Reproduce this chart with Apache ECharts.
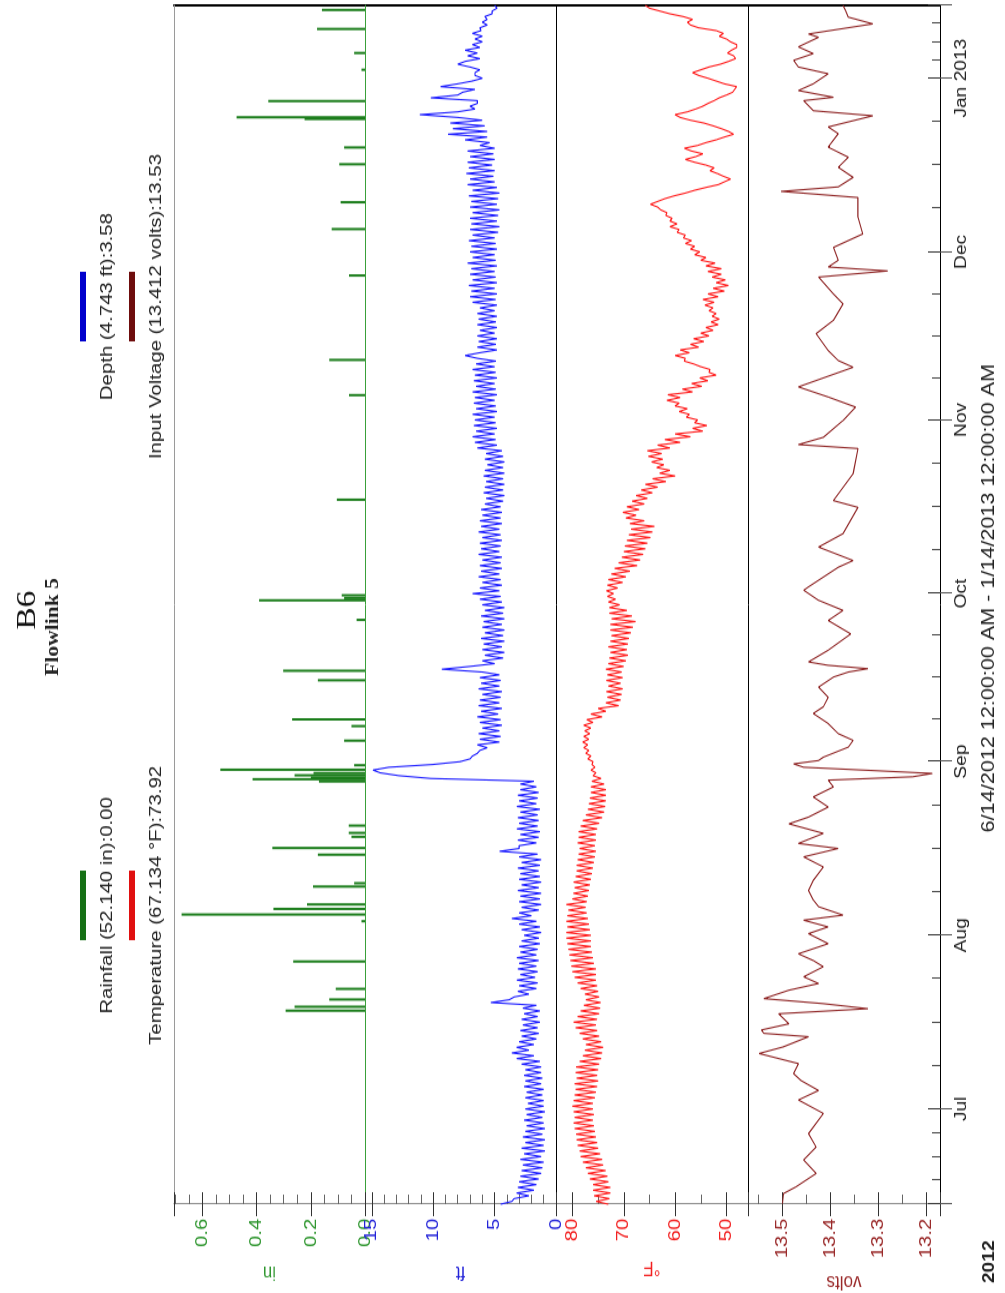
<!DOCTYPE html>
<html>
<head>
<meta charset="utf-8">
<script src="https://cdn.jsdelivr.net/npm/echarts@6/dist/echarts.min.js"></script>
<style>
  html, body { margin: 0; padding: 0; background: #fff; overflow: hidden; width: 1005px; height: 1293px; }
  /* The chart is laid out landscape, then turned a quarter turn so time runs bottom-to-top. */
  #chart { position: absolute; left: 0; top: 0; width: 1078px; height: 1005px;
           transform-origin: 0 0; transform: translate(0, 1293px) rotate(-90deg) scale(1.2, 1); }
</style>
</head>
<body>
<div id="chart"></div>
<script>
const START = new Date(2012, 5, 14).getTime();
const END = new Date(2013, 0, 14).getTime();
const DAY = 86400000;
const STEP = DAY / 2;            // depth and temperature are logged every 12 hours
const MONTHS = ['Jan','Feb','Mar','Apr','May','Jun','Jul','Aug','Sep','Oct','Nov','Dec'];

// Rainfall events: days after 6/14/2012 and inches
const rainDays = [34.4, 35.1, 36.4, 38.3, 43.2, 50.4, 51.6, 52.6, 53.4, 56.6, 57.2, 62.3, 63.5, 65.5, 66.2, 67.5,
                  75.4, 75.8, 76.1, 76.5, 76.9, 77.5, 78.3, 82.7, 85.3, 86.5, 93.5, 95.2, 104.3, 107.8, 108.2, 108.7,
                  125.8, 144.5, 150.8, 165.9, 174.2, 179.0, 185.8, 188.8, 193.9, 194.2, 197.1, 202.7, 205.7, 210.0, 213.4];
const rainInches = [0.293, 0.26, 0.132, 0.108, 0.265, 0.013, 0.677, 0.338, 0.214, 0.192, 0.04, 0.174, 0.342, 0.05, 0.06, 0.06,
                    0.17, 0.415, 0.2, 0.26, 0.19, 0.534, 0.04, 0.077, 0.05, 0.269, 0.174, 0.302, 0.031, 0.391, 0.077, 0.086,
                    0.104, 0.059, 0.132, 0.059, 0.123, 0.09, 0.095, 0.077, 0.223, 0.474, 0.357, 0.013, 0.04, 0.177, 0.159];

// Depth (ft), every 12 hours from 6/14/2012 00:00
const depthFt = [
  4.5,3.6, 3.4,2.2, 3.2,1.8, 3.1,1.6, 3.0,1.4, 2.9,1.2, 2.8,1.1, 2.7,1.0, 2.9,1.2, 2.6,0.9,
  2.8,1.0, 2.5,0.9, 2.7,1.1, 2.5,0.9, 2.4,1.0, 2.6,1.1, 2.4,0.9, 2.5,1.0, 2.3,1.0, 2.5,1.1,
  2.4,1.0, 2.6,1.2, 2.5,1.1, 2.6,1.2, 2.5,1.2, 2.8,1.3, 3.2,1.8, 3.6,2.2, 3.2,1.8, 3.0,1.6,
  2.8,1.4, 2.9,1.5, 2.7,1.3, 2.8,1.5, 2.6,1.3, 2.7,1.6, 5.3,3.8, 3.4,2.2, 3.1,1.6, 3.0,1.5,
  3.2,1.7, 2.9,1.5, 3.1,1.6, 3.0,1.4, 3.2,1.6, 2.9,1.5, 3.0,1.3, 2.8,1.4, 2.6,1.2, 2.8,1.3,
  3.0,1.6, 3.6,2.0, 3.0,1.4, 2.8,1.2, 3.0,1.3, 2.9,1.2, 3.1,1.4, 2.8,1.2, 3.0,1.3, 2.9,1.4,
  3.1,1.3, 2.8,1.2, 3.0,1.5, 4.6,3.0, 3.0,1.6, 3.1,1.4, 2.9,1.3, 3.2,1.5, 3.0,1.4, 3.1,1.5,
  2.9,1.3, 3.2,1.6, 3.0,1.5, 3.1,1.4, 2.9,1.6, 2.9,1.8, 10.2,12.8, 14.3,14.9, 13.6,10.0, 7.8,7.0,
  6.8,6.4, 6.2,5.6, 6.4,4.6, 6.2,4.5, 6.3,4.6, 6.0,4.4, 6.2,4.5, 6.4,4.7, 6.1,4.4, 6.3,4.6,
  6.2,4.5, 6.0,4.4, 6.3,4.6, 6.1,4.5, 6.2,4.6, 6.0,9.3, 7.0,5.0, 6.0,4.3, 5.8,4.2, 6.0,4.4,
  5.9,4.2, 6.1,4.3, 5.8,4.2, 6.0,4.4, 5.9,4.2, 6.1,4.3, 5.8,4.2, 6.0,4.4, 6.2,4.5, 6.8,4.6,
  6.2,4.4, 6.0,4.5, 6.3,4.6, 6.1,4.4, 6.2,4.5, 6.0,4.4, 6.3,4.6, 6.1,4.5, 6.2,4.4, 6.0,4.5,
  6.3,4.6, 6.1,4.4, 6.2,4.5, 6.0,4.4, 6.1,4.5, 5.8,4.3, 5.7,4.2, 5.9,4.3, 5.8,4.2, 5.7,4.3,
  5.9,4.2, 5.8,4.3, 5.6,4.2, 5.8,4.3, 5.7,4.4, 6.4,4.8, 6.6,4.9, 6.8,5.0, 6.5,4.8, 6.7,4.9,
  6.6,5.0, 6.8,4.8, 6.5,4.9, 6.7,5.0, 6.6,4.8, 6.8,4.9, 6.5,5.0, 6.7,4.8, 6.6,4.9, 6.8,5.0,
  6.5,4.9, 6.4,7.4, 6.2,4.8, 6.4,4.9, 6.3,4.8, 6.4,5.0, 6.2,4.8, 6.4,4.9, 6.3,4.8, 6.4,5.0,
  6.2,4.8, 6.8,4.9, 7.0,4.8, 6.9,5.0, 7.1,4.8, 6.8,4.9, 7.0,5.0, 6.9,4.8, 7.2,4.9, 6.8,5.0,
  7.0,4.8, 6.9,4.9, 7.1,5.0, 6.8,4.7, 7.0,4.6, 6.9,4.8, 7.0,4.7, 6.8,4.6, 7.0,4.8, 6.9,4.7,
  7.1,4.6, 6.8,4.8, 7.2,5.0, 7.0,5.1, 7.3,5.0, 7.1,5.2, 7.2,5.0, 7.0,5.1, 7.2,5.0, 6.2,5.4,
  7.4,5.6, 8.8,5.6, 8.4,5.8, 8.6,6.0, 8.0,11.1, 8.0,6.6, 7.0,6.4, 6.4,10.2, 8.0,7.6, 6.6,9.4,
  8.0,6.8, 6.0,6.6, 6.6,6.2, 7.0,8.0, 7.4,6.2, 7.2,6.4, 7.4,6.2, 6.8,6.0, 6.6,6.0, 6.8,6.1,
  6.2,5.6, 6.0,5.6, 5.8,5.2, 5.2,4.8, 5.0
];

// Temperature (°F), every 12 hours from 6/14/2012 00:00
const tempF = [
  73.0,75.4, 72.8,75.8, 72.6,76.0, 72.6,76.0, 73.0,76.6, 73.2,77.0, 73.5,77.4, 74.0,78.0, 74.2,78.4, 74.6,78.6,
  75.0,79.0, 75.2,79.2, 75.4,79.3, 75.6,79.6, 75.8,79.8, 76.0,79.6, 75.8,79.8, 76.0,80.0, 76.0,79.8, 75.6,79.6,
  75.4,79.4, 75.2,79.6, 75.0,79.2, 75.2,79.4, 75.0,79.3, 74.8,78.6, 74.4,78.0, 74.2,77.6, 74.0,77.4, 74.4,78.0,
  74.8,78.6, 75.2,79.4, 75.4,79.8, 75.2,79.0, 74.8,78.4, 74.6,77.8, 74.5,77.4, 74.8,77.6, 75.0,78.4, 75.2,79.0,
  75.4,79.6, 75.4,80.0, 75.4,80.2, 75.8,80.4, 76.0,80.6, 76.2,80.8, 76.4,81.0, 76.4,81.2, 76.4,81.2, 76.6,81.0,
  76.8,81.2, 77.0,81.0, 77.2,80.8, 77.4,81.2, 77.2,80.0, 77.0,79.8, 76.8,79.6, 76.6,79.8, 76.4,79.4, 76.2,79.2,
  76.0,79.2, 75.8,79.0, 75.6,78.8, 75.4,78.6, 75.6,79.0, 75.4,78.8, 75.4,78.8, 75.2,78.4, 74.8,78.0, 74.2,77.4,
  73.8,77.0, 73.6,76.8, 73.5,76.6, 73.5,76.4, 73.5,76.4, 73.8,76.2, 74.4,76.0, 75.4,76.4, 75.6,76.2, 76.0,77.0,
  76.4,77.4, 76.8,77.8, 77.0,78.0, 76.8,77.8, 76.6,77.6, 76.4,77.8, 76.0,77.2, 74.2,76.4, 73.5,75.0, 71.0,73.5,
  70.6,73.2, 70.4,73.4, 70.2,73.0, 70.6,73.4, 70.2,73.2, 70.4,73.5, 70.0,73.0, 69.6,72.8, 69.2,72.6, 69.4,73.0,
  69.2,72.6, 69.0,72.4, 68.6,72.6, 68.2,72.6, 67.7,72.4, 68.4,72.8, 69.4,72.8, 70.8,73.0, 71.6,73.2, 72.0,73.4,
  71.2,73.2, 70.2,73.0, 69.6,72.4, 68.8,71.8, 67.4,71.0, 66.8,70.4, 66.2,70.0, 65.8,69.8, 65.4,69.4, 64.8,69.0,
  64.4,68.6, 64.0,68.8, 66.0,69.6, 67.6,70.2, 67.0,69.4, 66.0,68.4, 65.4,67.6, 64.4,66.6, 63.4,65.8, 61.8,64.4,
  60.0,63.0, 61.0,63.6, 62.2,64.6, 62.4,65.2, 62.6,65.4, 61.0,63.4, 59.0,62.0, 57.0,60.0, 54.6,56.6, 53.8,56.2,
  55.6,57.8, 57.2,59.2, 57.6,60.0, 59.2,61.6, 59.0,61.4, 56.6,58.6, 54.8,56.8, 53.6,55.2, 52.0,53.4, 53.2,55.0,
  56.4,58.2, 58.0,60.0, 57.2,59.0, 55.4,57.0, 54.4,56.4, 53.4,55.0, 52.6,54.0, 51.6,53.0, 51.4,52.8, 52.0,53.4,
  52.6,54.2, 52.4,54.6, 51.6,53.6, 50.4,52.6, 49.6,52.0, 50.2,52.8, 51.0,53.6, 51.0,54.0, 52.2,55.0, 54.0,56.2,
  55.2,57.0, 56.2,58.0, 56.8,58.4, 58.0,59.6, 59.2,61.0, 59.6,61.0, 60.6,61.8, 61.6,62.8, 63.4,64.8, 63.4,62.0,
  60.2,58.0, 56.2,54.0, 51.6,50.4, 49.2,50.6, 51.8,53.2, 52.4,54.0, 56.2,58.0, 56.0,54.6, 56.8,58.2, 55.6,54.0,
  52.0,50.4, 48.6,49.6, 51.0,52.6, 54.4,57.0, 59.0,60.0, 57.6,56.0, 54.6,53.6, 52.4,51.4, 50.0,48.8, 48.4,48.0,
  50.4,52.0, 53.6,55.4, 56.6,55.0, 53.4,51.2, 49.6,48.2, 48.6,49.8, 49.0,48.0, 48.0,49.2, 50.0,51.4, 50.6,52.0,
  55.4,57.0, 57.6,56.6, 58.4,61.0, 63.0,65.0, 65.8
];

// Input voltage readings: days after 6/14/2012 and volts
const voltDays = [0.1, 1.9, 3.1, 5.5, 7.9, 10.2, 12.6, 16.2, 18.6, 20.3, 22.1, 23.3, 25.1, 26.9, 28.1, 29.9, 30.5, 31.1,
  32.2, 34.0, 34.9, 35.8, 36.7, 38.2, 39.4, 40.6, 42.4, 43.5, 44.7, 46.5, 48.3, 49.5, 50.7, 51.6, 53.1, 54.3,
  56.0, 57.8, 60.2, 62.0, 63.5, 64.4, 66.2, 67.9, 69.1, 70.9, 72.7, 74.5, 75.7, 76.3, 76.9, 77.5, 78.0, 78.6,
  79.2, 79.8, 81.6, 82.8, 84.0, 85.8, 87.6, 88.8, 90.5, 92.3, 94.1, 95.0, 95.6, 96.2, 96.8, 98.9, 101.8, 104.2,
  106.0, 107.8, 109.6, 110.2, 113.7, 114.9, 117.3, 119.7, 124.4, 125.6, 130.4, 134.9, 135.6, 136.9, 139.9, 142.3,
  144.1, 145.9, 149.4, 150.6, 152.4, 155.4, 157.8, 160.7, 162.5, 165.5, 166.6, 167.3, 168.5, 170.8, 173.2, 176.2,
  179.7, 180.8, 181.6, 183.3, 185.1, 186.9, 188.7, 191.1, 192.3, 194.3, 195.2, 197.0, 197.6, 198.8, 200.0, 201.8,
  203.0, 204.2, 205.4, 206.6, 208.3, 208.9, 210.7, 211.9, 213.1, 214.0];
const voltVals = [13.500, 13.498, 13.472, 13.430, 13.456, 13.430, 13.446, 13.415, 13.467, 13.425, 13.462, 13.477, 13.467,
  13.549, 13.498, 13.446, 13.539, 13.544, 13.487, 13.508, 13.322, 13.415, 13.539, 13.487, 13.425, 13.456, 13.415, 13.436,
  13.467, 13.405, 13.446, 13.405, 13.456, 13.374, 13.425, 13.436,
  13.446, 13.436, 13.415, 13.456, 13.384, 13.467, 13.415, 13.487, 13.446, 13.405, 13.436, 13.394, 13.405, 13.229, 13.188,
  13.333, 13.456, 13.477, 13.425, 13.415, 13.363, 13.353, 13.384, 13.405, 13.436, 13.415, 13.405, 13.425, 13.394, 13.363,
  13.322, 13.405, 13.446, 13.405, 13.358, 13.405, 13.374, 13.425, 13.456, 13.446, 13.384, 13.353, 13.425, 13.374, 13.343,
  13.394, 13.353, 13.343, 13.467, 13.415, 13.374, 13.348, 13.405, 13.467, 13.353, 13.384, 13.405, 13.430, 13.394, 13.374,
  13.394, 13.425, 13.281, 13.405, 13.384, 13.394, 13.333, 13.343, 13.343, 13.503, 13.384, 13.353, 13.384, 13.363, 13.405,
  13.384, 13.405, 13.312, 13.436, 13.456, 13.394, 13.467, 13.436, 13.405, 13.467, 13.477, 13.436, 13.467, 13.425, 13.446,
  13.312, 13.363, 13.369, 13.374];

const FONT = "'Liberation Sans', Arial, sans-serif";
const SERIF = "'Liberation Serif', 'Times New Roman', serif";
const C_RAIN = '#1b7d1b', C_DEPTH = '#1a1aff', C_TEMP = '#ff1a1a', C_VOLT = '#8e2323';
const L_RAIN = '#2f962f', L_DEPTH = '#2323d8', L_TEMP = '#f22020', L_VOLT = '#9a2a2a';

const gridTops = [174, 365, 556, 748];
const gridHeights = [191, 191, 192, 192];

function monthLabel(value) {
  const d = new Date(value);
  if (d.getDate() !== 1 || d.getHours() !== 0) return '';
  const m = d.getMonth();
  return m === 0 ? 'Jan ' + d.getFullYear() : MONTHS[m];
}

function timeAxis(gridIndex, extra) {
  return Object.assign({
    type: 'time', gridIndex: gridIndex, min: START, max: END, position: 'bottom',
    splitNumber: 7, minInterval: 28 * DAY,
    axisLine: { show: true, onZero: false, lineStyle: { color: '#000', width: 1 } },
    axisTick: { show: false }, minorTick: { show: false },
    axisLabel: { show: false }, splitLine: { show: false }, minorSplitLine: { show: false }
  }, extra || {});
}

function valueAxis(i, cfg) {
  return {
    type: 'value', gridIndex: i, position: 'left',
    min: cfg.min, max: cfg.max, interval: cfg.interval, splitNumber: cfg.splitNumber,
    name: cfg.name, nameLocation: 'middle', nameGap: cfg.nameGap,
    nameTextStyle: { color: cfg.color, fontSize: 17, fontFamily: FONT },
    axisLine: { show: true, onZero: false, lineStyle: { color: '#8c8c8c', width: 1 } },
    axisTick: { show: true, inside: true, length: 10, lineStyle: { color: '#333' } },
    minorTick: { show: true, splitNumber: cfg.minor, length: 8, lineStyle: { color: '#666' } },
    axisLabel: { color: cfg.color, fontSize: 17, fontFamily: FONT, margin: 12,
                 showMinLabel: cfg.showMin, showMaxLabel: false, formatter: cfg.fmt },
    splitLine: { show: false }
  };
}

// Outward half of each major tick, so the ticks cross the axis line
function outerTicks(i, cfg) {
  return {
    type: 'value', gridIndex: i, position: 'left',
    min: cfg.min, max: cfg.max, interval: cfg.interval, splitNumber: cfg.splitNumber,
    axisLine: { show: false }, axisLabel: { show: false }, splitLine: { show: false },
    axisTick: { show: true, inside: false, length: 10, lineStyle: { color: '#333' } }
  };
}

function rightEdge(i, cfg) {
  return {
    type: 'value', gridIndex: i, position: 'right', min: cfg.min, max: cfg.max,
    axisLine: { show: true, onZero: false, lineStyle: { color: '#000', width: 2 } },
    axisTick: { show: false }, axisLabel: { show: false }, splitLine: { show: false }
  };
}

const axisCfg = [
  { min: 0, max: 0.705, interval: 0.2, minor: 4, name: 'in', nameGap: 48, color: L_RAIN, showMin: true,
    fmt: v => v.toFixed(1) },
  { min: 0, max: 15.55, interval: 5, minor: 5, name: 'ft', nameGap: 48, color: L_DEPTH, showMin: true,
    fmt: v => String(v) },
  { min: 45.8, max: 83.2, splitNumber: 4, minor: 2, name: '°F', nameGap: 44, color: L_TEMP, showMin: false,
    fmt: v => String(Math.round(v)) },
  { min: 13.172, max: 13.572, splitNumber: 4, minor: 2, name: 'volts', nameGap: 55, color: L_VOLT, showMin: false,
    fmt: v => v.toFixed(1) }
];

const rainData = rainDays.map((d, i) => [START + d * DAY, rainInches[i]]);
const depthData = depthFt.map((v, i) => [START + i * STEP, v]);
const tempData = tempF.map((v, i) => [START + i * STEP, v]);
const voltData = voltDays.map((d, i) => [START + d * DAY, voltVals[i]]);

function legendItem(x, y, color, label) {
  return [
    { type: 'line', shape: { x1: x - 29, y1: y, x2: x + 29, y2: y },
      style: { stroke: color, lineWidth: 6 } },
    { type: 'text', x: x, y: y + 24,
      style: { text: label, fill: '#222', font: '17px ' + FONT, align: 'center', verticalAlign: 'middle' } }
  ];
}

const chart = echarts.init(document.getElementById('chart'), null, { renderer: 'canvas' });
chart.setOption({
  animation: false,
  backgroundColor: '#fff',
  grid: gridTops.map((t, i) => ({ left: 74, right: 5, top: t, height: gridHeights[i], outerBoundsMode: 'none', containLabel: false })),
  xAxis: [
    timeAxis(0, { axisLine: { show: true, onZero: false, lineStyle: { color: '#3aa03a', width: 1 } } }),
    timeAxis(1),
    timeAxis(2),
    timeAxis(3, {
      axisTick: { show: true, inside: true, length: 12, lineStyle: { color: '#333' } },
      minorTick: { show: true, splitNumber: 4, length: 8, lineStyle: { color: '#444' } },
      axisLabel: { show: true, formatter: monthLabel, color: '#222', fontSize: 16, fontFamily: FONT, margin: 14,
                   hideOverlap: false, showMinLabel: false, showMaxLabel: false }
    }),
    timeAxis(3, { axisLine: { show: false },
                  axisTick: { show: true, inside: false, length: 12, lineStyle: { color: '#555' } } }),
    timeAxis(0, { position: 'top', axisLine: { show: true, onZero: false, lineStyle: { color: '#9a9a9a', width: 1 } } })
  ],
  yAxis: [
    ...axisCfg.map((c, i) => valueAxis(i, c)),
    ...axisCfg.map((c, i) => outerTicks(i, c)),
    ...axisCfg.map((c, i) => rightEdge(i, c))
  ],
  series: [
    { name: 'Rainfall', type: 'bar', xAxisIndex: 0, yAxisIndex: 0, data: rainData, barWidth: 2,
      itemStyle: { color: C_RAIN }, silent: true },
    { name: 'Depth', type: 'line', xAxisIndex: 1, yAxisIndex: 1, data: depthData, showSymbol: false,
      lineStyle: { color: C_DEPTH, width: 1.1 }, silent: true },
    { name: 'Temperature', type: 'line', xAxisIndex: 2, yAxisIndex: 2, data: tempData, showSymbol: false,
      lineStyle: { color: C_TEMP, width: 1.1 }, silent: true },
    { name: 'Input Voltage', type: 'line', xAxisIndex: 3, yAxisIndex: 3, data: voltData, showSymbol: false,
      lineStyle: { color: C_VOLT, width: 1.1 }, silent: true }
  ],
  graphic: [
    { type: 'text', x: 569, y: 28, style: { text: 'B6', fill: '#111', font: '28px ' + SERIF, align: 'center', verticalAlign: 'middle' } },
    { type: 'text', x: 555, y: 53, style: { text: 'Flowlink 5', fill: '#222', font: 'bold 18px ' + SERIF, align: 'center', verticalAlign: 'middle' } },
    ...legendItem(323, 83, '#157015', 'Rainfall (52.140 in):0.00'),
    ...legendItem(323, 132, '#e01010', 'Temperature (67.134 °F):73.92'),
    ...legendItem(822, 83, '#0000cc', 'Depth (4.743 ft):3.58'),
    ...legendItem(822, 132, '#6e0d0d', 'Input Voltage (13.412 volts):13.53'),
    { type: 'text', x: 579, y: 989, style: { text: '6/14/2012 12:00:00 AM - 1/14/2013 12:00:00 AM', fill: '#222',
      font: '18px ' + FONT, align: 'center', verticalAlign: 'middle' } },
    { type: 'text', x: 26, y: 990, style: { text: '2012', fill: '#222', font: 'bold 16px ' + FONT, align: 'center', verticalAlign: 'middle' } }
  ]
});
</script>
</body>
</html>
